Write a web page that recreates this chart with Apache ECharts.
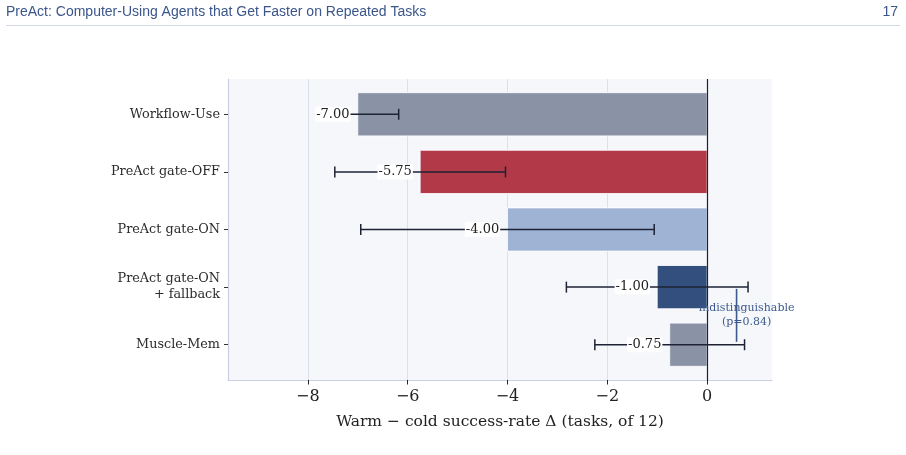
<!DOCTYPE html>
<html>
<head>
<meta charset="utf-8">
<script src="https://cdn.jsdelivr.net/npm/echarts@6/dist/echarts.min.js"></script>
<style>
  html, body { margin: 0; padding: 0; background: #fff; }
  #chart { width: 906px; height: 455px; }
</style>
</head>
<body>
<div id="chart"></div>
<script>
const categories = ["Workflow-Use", "PreAct gate-OFF", "PreAct gate-ON", "PreAct gate-ON\n+ fallback", "Muscle-Mem"];
const deltas = [-7.0, -5.75, -4.0, -1.0, -0.75];
const errors = [0.82, 1.71, 2.94, 1.82, 1.5];
const barColors = ["#8a93a6", "#b23a48", "#9fb3d4", "#324f7d", "#8a93a6"];
const xTicks = [-8, -6, -4, -2, 0];
const gridTicks = [-8, -6, -4, -2];

const serif = "'DejaVu Serif', serif";
const chart = echarts.init(document.getElementById("chart"));

const barData = deltas.map((v, i) => [v, i, errors[i]]);

chart.setOption({
  animation: false,
  grid: {
    left: 228, top: 79, right: 134, bottom: 75,
    show: true, backgroundColor: "#f5f7fb", borderWidth: 0,
  },
  xAxis: {
    type: "value",
    min: -9.6, max: 1.3,
    name: "Warm \u2212 cold success-rate \u0394 (tasks, of 12)",
    nameLocation: "middle",
    nameGap: 34,
    nameTextStyle: { fontFamily: serif, fontSize: 15.5, color: "#222" },
    axisLine: { show: true, onZero: false, lineStyle: { color: "#c7cfe0", width: 1.2 } },
    axisTick: { show: true, customValues: xTicks, length: 4.5, lineStyle: { color: "#222" } },
    axisLabel: {
      customValues: xTicks,
      margin: 9,
      fontFamily: serif, fontSize: 16, color: "#222",
      formatter: (v) => (v < 0 ? "\u2212" + Math.abs(v) : String(v)),
    },
    splitLine: { show: false },
  },
  yAxis: {
    type: "value",
    min: -0.6125, max: 4.6125,
    inverse: true,
    axisLine: { show: true, onZero: false, lineStyle: { color: "#c7cfe0", width: 1.2 } },
    axisTick: { show: true, customValues: [0, 1, 2, 3, 4], length: 4, lineStyle: { color: "#333" } },
    axisLabel: {
      customValues: [0, 1, 2, 3, 4],
      margin: 8,
      align: "right",
      fontFamily: serif, fontSize: 12.8, color: "#2b2b2b", lineHeight: 16,
      formatter: (v) => categories[Math.round(v)],
    },
    splitLine: { show: false },
  },
  series: [
    {
      // grid lines
      type: "line", data: [], silent: true,
      markLine: {
        z: 1,
        silent: true, symbol: ["none", "none"], label: { show: false },
        lineStyle: { color: "#dbe1ec", width: 1, type: "solid" },
        data: gridTicks.map((t) => ({ xAxis: t })),
      },
    },
    {
      type: "custom",
      z: 3,
      data: barData,
      encode: { x: 0, y: 1 },
      renderItem(params, api) {
        const v = api.value(0), i = api.value(1), e = api.value(2);
        const p0 = api.coord([0, i]);
        const p1 = api.coord([v, i]);
        const h = api.size([0, 0.75])[1];
        const lo = api.coord([v - e, i]);
        const hi = api.coord([v + e, i]);
        const lab = api.coord([v - 0.5, i]);
        const ec = "#1e2235";
        return {
          type: "group",
          children: [
            {
              type: "rect",
              shape: { x: Math.min(p0[0], p1[0]), y: p0[1] - h / 2, width: Math.abs(p0[0] - p1[0]), height: h },
              style: { fill: barColors[params.dataIndex], stroke: "#ffffff", lineWidth: 0.8 },
            },
            { type: "line", shape: { x1: lo[0], y1: lo[1], x2: hi[0], y2: hi[1] }, style: { stroke: ec, lineWidth: 1.5 } },
            { type: "line", shape: { x1: lo[0], y1: lo[1] - 5.5, x2: lo[0], y2: lo[1] + 5.5 }, style: { stroke: ec, lineWidth: 1.5 } },
            { type: "line", shape: { x1: hi[0], y1: hi[1] - 5.5, x2: hi[0], y2: hi[1] + 5.5 }, style: { stroke: ec, lineWidth: 1.5 } },
            {
              type: "text",
              x: lab[0], y: lab[1],
              style: {
                text: v.toFixed(2),
                align: "center", verticalAlign: "middle",
                font: "13px " + serif, fill: "#222",
                backgroundColor: "#ffffff", padding: [1, 1],
              },
            },
          ],
        };
      },
    },
    {
      // zero line
      type: "line", data: [], silent: true,
      markLine: {
        z: 4,
        silent: true, symbol: ["none", "none"], label: { show: false },
        lineStyle: { color: "#1e2235", width: 1.2, type: "solid" },
        data: [{ xAxis: 0 }],
      },
    },
    {
      // indistinguishable bracket
      type: "custom",
      z: 5,
      data: [[0.59, 3.03, 3.95]],
      encode: { x: 0, y: 1 },
      renderItem(params, api) {
        const a = api.coord([api.value(0), api.value(1)]);
        const b = api.coord([api.value(0), api.value(2)]);
        const t = api.coord([0.79, 3.49]);
        return {
          type: "group",
          children: [
            {
              type: "text", x: t[0], y: t[1],
              style: {
                text: "indistinguishable\n(p=0.84)",
                align: "center", verticalAlign: "middle",
                font: "11px " + serif, fill: "#3d5a8c", lineHeight: 14,
              },
            },
            { type: "line", shape: { x1: a[0], y1: a[1], x2: b[0], y2: b[1] }, style: { stroke: "#3d5a8c", lineWidth: 1.6 } },
          ],
        };
      },
    },
  ],
  graphic: [
    {
      type: "text", left: 6, top: 5,
      style: { text: "PreAct: Computer-Using Agents that Get Faster on Repeated Tasks", font: "14px 'Liberation Sans', Arial, sans-serif", fill: "#3a568a" },
    },
    {
      type: "text", right: 8, top: 5,
      style: { text: "17", font: "14px 'Liberation Sans', Arial, sans-serif", fill: "#3a568a" },
    },
    {
      type: "line", shape: { x1: 6, y1: 25.5, x2: 900, y2: 25.5 },
      style: { stroke: "#d3d8e6", lineWidth: 1 },
    },
  ],
});
</script>
</body>
</html>
